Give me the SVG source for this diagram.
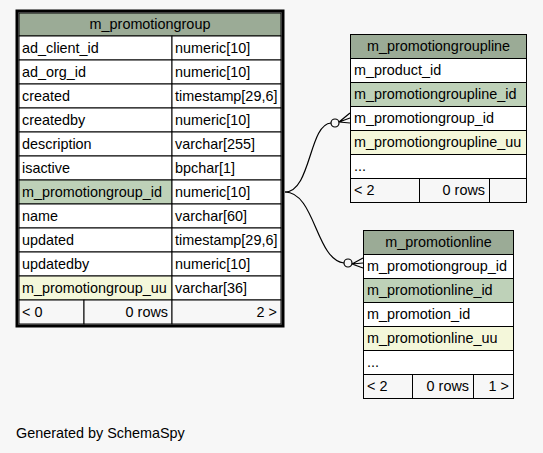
<svg xmlns="http://www.w3.org/2000/svg" width="543" height="453" viewBox="0 0 543 453">
<style>
text{font-family:"Liberation Sans",Arial,sans-serif;font-size:14.4px;fill:#000}
.c{fill:#fff;stroke:#000;stroke-width:1}
.h{fill:#9bab96;stroke:#000;stroke-width:1}
.pk{fill:#bed1b8;stroke:#000;stroke-width:1}
.uu{fill:#f4f7da;stroke:#000;stroke-width:1}
.f{fill:#f7f7f7;stroke:#000;stroke-width:1}
.m{text-anchor:middle}
.e{text-anchor:end}
.edge{fill:none;stroke:#000;stroke-width:1.2}
</style>
<rect width="543" height="453" fill="#f7f7f7"/>
<g id="m_promotiongroup">
<rect class="h" x="19" y="13" width="262" height="23"/>
<text class="m" x="150" y="29">m_promotiongroup</text>
<rect class="c" x="19" y="36" width="153" height="24"/><rect class="c" x="172" y="36" width="109" height="24"/>
<text x="22" y="53">ad_client_id</text><text x="175" y="53">numeric[10]</text>
<rect class="c" x="19" y="60" width="153" height="24"/><rect class="c" x="172" y="60" width="109" height="24"/>
<text x="22" y="77">ad_org_id</text><text x="175" y="77">numeric[10]</text>
<rect class="c" x="19" y="84" width="153" height="24"/><rect class="c" x="172" y="84" width="109" height="24"/>
<text x="22" y="101">created</text><text x="175" y="101">timestamp[29,6]</text>
<rect class="c" x="19" y="108" width="153" height="24"/><rect class="c" x="172" y="108" width="109" height="24"/>
<text x="22" y="125">createdby</text><text x="175" y="125">numeric[10]</text>
<rect class="c" x="19" y="132" width="153" height="24"/><rect class="c" x="172" y="132" width="109" height="24"/>
<text x="22" y="149">description</text><text x="175" y="149">varchar[255]</text>
<rect class="c" x="19" y="156" width="153" height="24"/><rect class="c" x="172" y="156" width="109" height="24"/>
<text x="22" y="173">isactive</text><text x="175" y="173">bpchar[1]</text>
<rect class="pk" x="19" y="180" width="153" height="24"/><rect class="c" x="172" y="180" width="109" height="24"/>
<text x="22" y="197">m_promotiongroup_id</text><text x="175" y="197">numeric[10]</text>
<rect class="c" x="19" y="204" width="153" height="24"/><rect class="c" x="172" y="204" width="109" height="24"/>
<text x="22" y="221">name</text><text x="175" y="221">varchar[60]</text>
<rect class="c" x="19" y="228" width="153" height="24"/><rect class="c" x="172" y="228" width="109" height="24"/>
<text x="22" y="245">updated</text><text x="175" y="245">timestamp[29,6]</text>
<rect class="c" x="19" y="252" width="153" height="24"/><rect class="c" x="172" y="252" width="109" height="24"/>
<text x="22" y="269">updatedby</text><text x="175" y="269">numeric[10]</text>
<rect class="uu" x="19" y="276" width="153" height="24"/><rect class="c" x="172" y="276" width="109" height="24"/>
<text x="22" y="293">m_promotiongroup_uu</text><text x="175" y="293">varchar[36]</text>
<rect class="f" x="19" y="300" width="65" height="24"/><rect class="f" x="84" y="300" width="88" height="24"/><rect class="f" x="172" y="300" width="109" height="24"/>
<text x="22" y="317">&lt; 0</text><text class="e" x="168" y="317">0 rows</text><text class="e" x="277" y="317">2 &gt;</text>
<rect x="17" y="11" width="266" height="315" fill="none" stroke="#000" stroke-width="3"/>
</g>
<g id="m_promotiongroupline">
<rect class="h" x="350.5" y="34.5" width="176" height="24"/>
<text class="m" x="438.5" y="51">m_promotiongroupline</text>
<rect class="c" x="350.5" y="58.5" width="176" height="24"/><text x="354" y="75">m_product_id</text>
<rect class="pk" x="350.5" y="82.5" width="176" height="24"/><text x="354" y="99">m_promotiongroupline_id</text>
<rect class="c" x="350.5" y="106.5" width="176" height="24"/><text x="354" y="123">m_promotiongroup_id</text>
<rect class="uu" x="350.5" y="130.5" width="176" height="24"/><text x="354" y="147">m_promotiongroupline_uu</text>
<rect class="c" x="350.5" y="154.5" width="176" height="24"/><text x="354" y="171">...</text>
<rect class="f" x="350.5" y="178.5" width="69" height="24"/><rect class="f" x="419.5" y="178.5" width="70" height="24"/><rect class="f" x="489.5" y="178.5" width="37" height="24"/>
<text x="354" y="195">&lt; 2</text><text class="e" x="485" y="195">0 rows</text>
</g>
<g id="m_promotionline">
<rect class="h" x="363.5" y="230.5" width="150" height="24"/>
<text class="m" x="438.5" y="247">m_promotionline</text>
<rect class="c" x="363.5" y="254.5" width="150" height="24"/><text x="367" y="271">m_promotiongroup_id</text>
<rect class="pk" x="363.5" y="278.5" width="150" height="24"/><text x="367" y="295">m_promotionline_id</text>
<rect class="c" x="363.5" y="302.5" width="150" height="24"/><text x="367" y="319">m_promotion_id</text>
<rect class="uu" x="363.5" y="326.5" width="150" height="24"/><text x="367" y="343">m_promotionline_uu</text>
<rect class="c" x="363.5" y="350.5" width="150" height="24"/><text x="367" y="367">...</text>
<rect class="f" x="363.5" y="374.5" width="49" height="24"/><rect class="f" x="412.5" y="374.5" width="61" height="24"/><rect class="f" x="473.5" y="374.5" width="40" height="24"/>
<text x="367" y="391">&lt; 2</text><text class="e" x="469" y="391">0 rows</text><text class="e" x="509" y="391">1 &gt;</text>
</g>
<g id="connectors">
<path class="edge" d="M285,192 C311,192 309,124 331,123"/>
<circle cx="335" cy="123" r="4" fill="none" stroke="#000" stroke-width="1.2"/>
<path class="edge" d="M339,122 L350,113 M339,122 L350,118 M339,122 L350,123"/>
<path class="edge" d="M285,192 C315,192 316,260 344,263"/>
<circle cx="348" cy="263" r="4" fill="none" stroke="#000" stroke-width="1.2"/>
<path class="edge" d="M352,264 L363,258 M352,264 L363,263 M352,264 L363,268"/>
</g>
<text x="16" y="438">Generated by SchemaSpy</text>
</svg>
